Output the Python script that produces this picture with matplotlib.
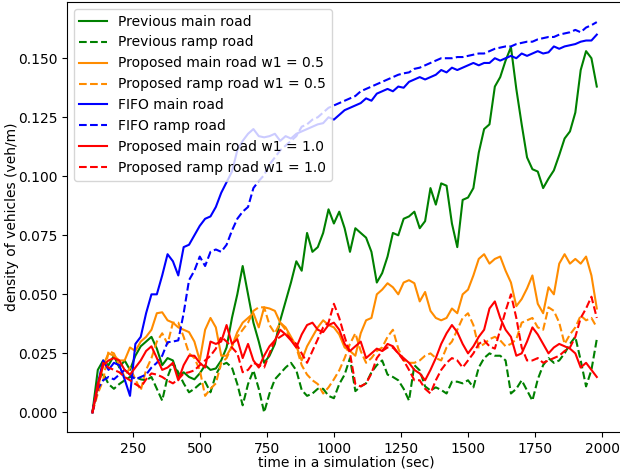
import numpy as np
import matplotlib
matplotlib.use("Agg")
import matplotlib.pyplot as plt

# sample times (sec)
t = np.arange(100, 2000, 20)

prev_main = [0.000, 0.018, 0.022, 0.020, 0.024, 0.019, 0.022, 0.018, 0.024, 0.028,
             0.030, 0.032, 0.027, 0.020, 0.023, 0.022, 0.015, 0.017, 0.015, 0.014,
             0.0165, 0.020, 0.018, 0.0186, 0.022, 0.0275, 0.040, 0.050, 0.062, 0.050,
             0.038, 0.030, 0.021, 0.024, 0.029, 0.039, 0.047, 0.055, 0.064, 0.060,
             0.076, 0.068, 0.070, 0.076, 0.086, 0.080, 0.085, 0.078, 0.068, 0.078,
             0.076, 0.074, 0.068, 0.055, 0.059, 0.066, 0.076, 0.075, 0.082, 0.083,
             0.085, 0.078, 0.081, 0.095, 0.088, 0.097, 0.096, 0.080, 0.070, 0.090,
             0.091, 0.095, 0.110, 0.120, 0.122, 0.138, 0.142, 0.149, 0.1547, 0.137,
             0.122, 0.108, 0.103, 0.102, 0.095, 0.099, 0.1025, 0.109, 0.116, 0.119,
             0.127, 0.145, 0.153, 0.150, 0.138]
prev_ramp = [0.000, 0.0136, 0.0165, 0.012, 0.010, 0.012, 0.0136, 0.015, 0.015, 0.014,
             0.0136, 0.015, 0.010, 0.005, 0.015, 0.021, 0.017, 0.0123, 0.0085, 0.010,
             0.012, 0.013, 0.0085, 0.016, 0.020, 0.021, 0.019, 0.012, 0.003, 0.012,
             0.0178, 0.010, 0.000, 0.008, 0.014, 0.0165, 0.019, 0.021, 0.0178, 0.0095,
             0.007, 0.008, 0.010, 0.010, 0.007, 0.006, 0.012, 0.016, 0.023, 0.009,
             0.011, 0.0123, 0.017, 0.020, 0.022, 0.016, 0.015, 0.0136, 0.010, 0.005,
             0.020, 0.0178, 0.011, 0.0093, 0.0106, 0.0095, 0.008, 0.013, 0.013, 0.0123,
             0.0136, 0.0106, 0.019, 0.023, 0.025, 0.024, 0.024, 0.022, 0.008, 0.010,
             0.0136, 0.0093, 0.005, 0.014, 0.020, 0.023, 0.021, 0.022, 0.025, 0.029,
             0.032, 0.022, 0.011, 0.018, 0.031]
prop05_main = [0.000, 0.010, 0.020, 0.025, 0.024, 0.022, 0.022, 0.0275, 0.026, 0.030,
               0.032, 0.035, 0.042, 0.0424, 0.039, 0.038, 0.036, 0.035, 0.034, 0.030,
               0.022, 0.035, 0.040, 0.036, 0.024, 0.024, 0.028, 0.034, 0.038, 0.040,
               0.042, 0.036, 0.0445, 0.044, 0.043, 0.038, 0.036, 0.032, 0.028, 0.022,
               0.028, 0.032, 0.036, 0.039, 0.037, 0.036, 0.033, 0.0275, 0.026, 0.024,
               0.0335, 0.039, 0.040, 0.050, 0.052, 0.0547, 0.053, 0.050, 0.055, 0.056,
               0.0547, 0.047, 0.051, 0.043, 0.040, 0.039, 0.040, 0.044, 0.042, 0.050,
               0.052, 0.058, 0.065, 0.067, 0.063, 0.065, 0.066, 0.060, 0.055, 0.045,
               0.048, 0.0525, 0.058, 0.046, 0.042, 0.053, 0.050, 0.063, 0.067, 0.063,
               0.065, 0.063, 0.066, 0.058, 0.044]
prop05_ramp = [0.000, 0.008, 0.0136, 0.026, 0.025, 0.020, 0.015, 0.019, 0.014, 0.0093,
               0.018, 0.023, 0.030, 0.0335, 0.029, 0.038, 0.038, 0.032, 0.025, 0.023,
               0.018, 0.007, 0.010, 0.0123, 0.021, 0.023, 0.028, 0.032, 0.035, 0.038,
               0.043, 0.0445, 0.0445, 0.037, 0.0335, 0.038, 0.035, 0.031, 0.0275, 0.020,
               0.016, 0.0136, 0.012, 0.008, 0.0106, 0.014, 0.0178, 0.023, 0.029, 0.0335,
               0.026, 0.021, 0.023, 0.026, 0.0275, 0.032, 0.035, 0.027, 0.022, 0.021,
               0.021, 0.022, 0.024, 0.025, 0.023, 0.022, 0.0275, 0.030, 0.035, 0.040,
               0.042, 0.037, 0.0275, 0.029, 0.031, 0.032, 0.0305, 0.028, 0.029, 0.031,
               0.038, 0.039, 0.040, 0.036, 0.035, 0.0445, 0.043, 0.038, 0.029, 0.033,
               0.036, 0.041, 0.039, 0.040, 0.036]
fifo_main = [0.000, 0.012, 0.022, 0.018, 0.021, 0.020, 0.014, 0.007, 0.029, 0.032,
             0.042, 0.050, 0.050, 0.058, 0.067, 0.064, 0.058, 0.070, 0.071, 0.075,
             0.079, 0.082, 0.083, 0.087, 0.093, 0.0975, 0.102, 0.111, 0.115, 0.118,
             0.120, 0.117, 0.1165, 0.117, 0.118, 0.115, 0.117, 0.116, 0.118, 0.119,
             0.120, 0.121, 0.122, 0.1225, 0.125, 0.124, 0.126, 0.128, 0.129, 0.130,
             0.131, 0.133, 0.132, 0.135, 0.136, 0.137, 0.136, 0.138, 0.1375, 0.140,
             0.141, 0.142, 0.141, 0.142, 0.143, 0.145, 0.144, 0.146, 0.145, 0.146,
             0.147, 0.148, 0.147, 0.148, 0.148, 0.150, 0.149, 0.150, 0.151, 0.150,
             0.152, 0.151, 0.152, 0.153, 0.152, 0.1525, 0.155, 0.154, 0.155, 0.1555,
             0.156, 0.157, 0.1575, 0.1575, 0.160]
fifo_ramp = [0.000, 0.010, 0.0136, 0.015, 0.014, 0.016, 0.018, 0.016, 0.014, 0.015,
             0.016, 0.019, 0.021, 0.024, 0.0297, 0.030, 0.0305, 0.042, 0.056, 0.060,
             0.066, 0.062, 0.068, 0.069, 0.068, 0.071, 0.077, 0.082, 0.085, 0.087,
             0.095, 0.098, 0.1005, 0.105, 0.108, 0.111, 0.113, 0.115, 0.117, 0.121,
             0.122, 0.124, 0.125, 0.127, 0.129, 0.130, 0.131, 0.132, 0.133, 0.134,
             0.136, 0.137, 0.138, 0.139, 0.140, 0.141, 0.142, 0.143, 0.1436, 0.144,
             0.1455, 0.146, 0.147, 0.148, 0.149, 0.150, 0.150, 0.150, 0.1505, 0.1505,
             0.151, 0.1515, 0.152, 0.152, 0.153, 0.154, 0.1545, 0.155, 0.155, 0.156,
             0.1565, 0.157, 0.157, 0.158, 0.1585, 0.159, 0.159, 0.160, 0.1605, 0.161,
             0.162, 0.161, 0.163, 0.164, 0.1653]
prop10_main = [0.000, 0.012, 0.020, 0.022, 0.023, 0.022, 0.018, 0.016, 0.019, 0.022,
               0.026, 0.028, 0.023, 0.018, 0.019, 0.021, 0.0136, 0.020, 0.024, 0.024,
               0.021, 0.019, 0.030, 0.029, 0.030, 0.037, 0.029, 0.031, 0.023, 0.029,
               0.022, 0.019, 0.024, 0.028, 0.0305, 0.035, 0.033, 0.0305, 0.0275, 0.033,
               0.037, 0.038, 0.035, 0.034, 0.037, 0.038, 0.035, 0.029, 0.026, 0.028,
               0.030, 0.023, 0.025, 0.027, 0.026, 0.029, 0.028, 0.025, 0.023, 0.021,
               0.018, 0.0165, 0.0136, 0.018, 0.023, 0.029, 0.0335, 0.037, 0.034, 0.029,
               0.025, 0.028, 0.032, 0.035, 0.044, 0.047, 0.040, 0.035, 0.032, 0.024,
               0.025, 0.030, 0.036, 0.033, 0.029, 0.025, 0.0275, 0.029, 0.028, 0.027,
               0.025, 0.019, 0.021, 0.018, 0.015]
prop10_ramp = [0.000, 0.010, 0.021, 0.019, 0.018, 0.017, 0.015, 0.0136, 0.012, 0.0106,
               0.014, 0.0165, 0.016, 0.015, 0.0135, 0.0123, 0.014, 0.0165, 0.017, 0.0178,
               0.020, 0.022, 0.024, 0.027, 0.032, 0.030, 0.0275, 0.025, 0.017, 0.018,
               0.021, 0.020, 0.019, 0.025, 0.0305, 0.032, 0.0335, 0.031, 0.029, 0.025,
               0.021, 0.026, 0.031, 0.036, 0.038, 0.046, 0.040, 0.032, 0.025, 0.012,
               0.011, 0.0123, 0.0165, 0.023, 0.026, 0.0275, 0.0275, 0.025, 0.022, 0.018,
               0.0136, 0.0136, 0.010, 0.008, 0.0136, 0.018, 0.021, 0.023, 0.022, 0.019,
               0.022, 0.025, 0.029, 0.0305, 0.028, 0.027, 0.035, 0.043, 0.050, 0.040,
               0.0275, 0.022, 0.022, 0.023, 0.021, 0.022, 0.023, 0.024, 0.026, 0.0275,
               0.032, 0.040, 0.044, 0.049, 0.040]

fig = plt.figure(figsize=(6.2, 4.73), dpi=100)
ax = fig.add_axes([0.108, 0.0867, 0.900, 0.909])

ax.plot(t, prev_main, color="green", ls="-", label="Previous main road")
ax.plot(t, prev_ramp, color="green", ls="--", label="Previous ramp road")
ax.plot(t, prop05_main, color="darkorange", ls="-", label="Proposed main road w1 = 0.5")
ax.plot(t, prop05_ramp, color="darkorange", ls="--", label="Proposed ramp road w1 = 0.5")
ax.plot(t, fifo_main, color="blue", ls="-", label="FIFO main road")
ax.plot(t, fifo_ramp, color="blue", ls="--", label="FIFO ramp road")
ax.plot(t, prop10_main, color="red", ls="-", label="Proposed main road w1 = 1.0")
ax.plot(t, prop10_ramp, color="red", ls="--", label="Proposed ramp road w1 = 1.0")

ax.set_xlim(5, 2085)
ax.set_ylim(-0.0083, 0.1738)
ax.set_xticks([250, 500, 750, 1000, 1250, 1500, 1750, 2000])
ax.set_xlabel("time in a simulation (sec)", labelpad=0)
ax.set_ylabel("density of vehicles (veh/m)", labelpad=-1)
ax.legend(loc="upper left")

fig.savefig("out.png", dpi=100)
